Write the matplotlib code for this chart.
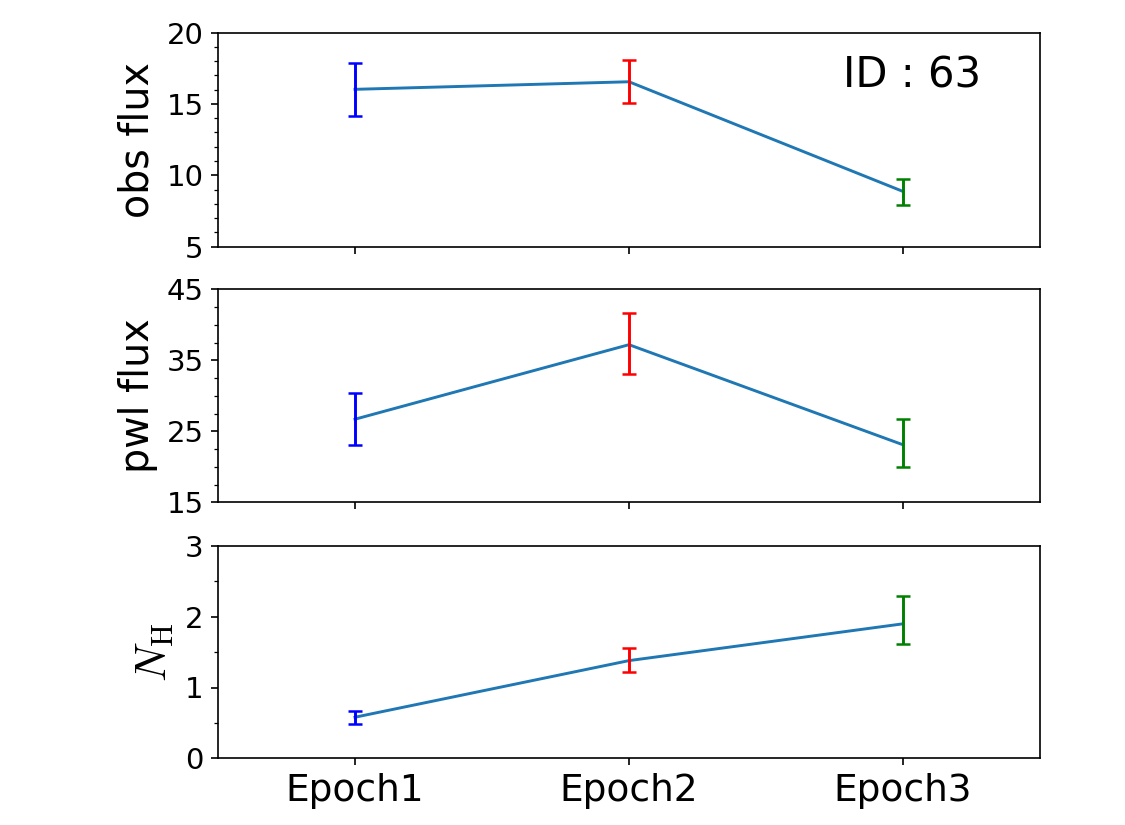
import matplotlib
matplotlib.use("Agg")
import matplotlib.pyplot as plt
from matplotlib.ticker import MultipleLocator

plt.rcParams["mathtext.fontset"] = "cm"

epochs = ["Epoch1", "Epoch2", "Epoch3"]
colors = ["blue", "red", "green"]

obs_flux = [16.02, 16.55, 8.87]
obs_err_lo = [1.87, 1.5, 0.95]
obs_err_hi = [1.87, 1.5, 0.9]

pwl_flux = [26.7, 37.2, 23.1]
pwl_err_lo = [3.6, 4.1, 3.2]
pwl_err_hi = [3.65, 4.5, 3.6]

nh = [0.58, 1.38, 1.90]
nh_err_lo = [0.1, 0.16, 0.28]
nh_err_hi = [0.09, 0.18, 0.40]

src_id = 63

obs_ticks = [5, 10, 15, 20]
pwl_ticks = [15, 25, 35, 45]
nh_ticks = [0, 1, 2, 3]

fig = plt.figure(figsize=(7.5, 5.5), dpi=150)
left, width = 0.1938, 0.7306
ax1 = fig.add_axes([left, 0.701, width, 0.2596])
ax2 = fig.add_axes([left, 0.3912, width, 0.2581], sharex=ax1)
ax3 = fig.add_axes([left, 0.0809, width, 0.2573], sharex=ax1)

x = list(range(len(epochs)))

def panel(ax, vals, lo, hi, ticks, minor, ylabel, ylfs):
    ax.plot(x, vals, color="#1f77b4", lw=1.4, zorder=1)
    for i in x:
        ax.errorbar(x[i], vals[i], yerr=[[lo[i]], [hi[i]]], fmt="none",
                    ecolor=colors[i], elinewidth=1.4, capsize=3.3,
                    capthick=1.2, zorder=2)
    ax.set_ylim(ticks[0], ticks[-1])
    ax.set_yticks(ticks)
    ax.yaxis.set_minor_locator(MultipleLocator(minor))
    ax.tick_params(axis="y", labelsize=14)
    ax.set_ylabel(ylabel, fontsize=ylfs)

panel(ax1, obs_flux, obs_err_lo, obs_err_hi, obs_ticks, 1, "obs flux", 19)
panel(ax2, pwl_flux, pwl_err_lo, pwl_err_hi, pwl_ticks, 2.5, "pwl flux", 19)
panel(ax3, nh, nh_err_lo, nh_err_hi, nh_ticks, 0.5, r"$N_{\rm H}$", 21)

ax1.set_xlim(-0.5, 2.5)
ax3.set_xticks(x)
ax3.set_xticklabels(epochs, fontsize=18)
ax1.tick_params(axis="x", labelbottom=False)
ax2.tick_params(axis="x", labelbottom=False)

ax1.text(0.845, 0.8, f"ID : {src_id}", transform=ax1.transAxes,
         fontsize=20, ha="center", va="center")

fig.savefig("out.png", dpi=150)
